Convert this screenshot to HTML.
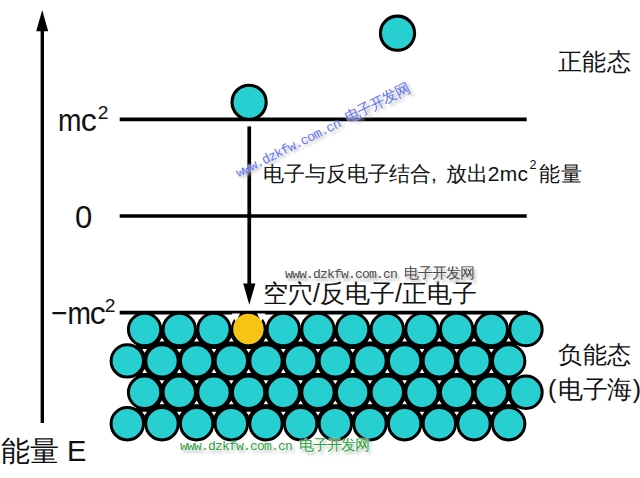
<!DOCTYPE html>
<html><head><meta charset="utf-8">
<style>
html,body{margin:0;padding:0;background:#fff;width:640px;height:478px;overflow:hidden;}
body{position:relative;font-family:"Liberation Sans",sans-serif;color:#111;}
.t{position:absolute;white-space:nowrap;line-height:1;}
svg{position:absolute;left:0;top:0;}
sup{font-size:0.6em;vertical-align:0;position:relative;top:-0.62em;}
.sq{display:inline-block;transform:scaleX(0.88);transform-origin:0 0;margin-right:-4px}
.sq2{display:inline-block;transform:scaleX(0.88);transform-origin:0 0;margin-right:-6.5px}
.wm{position:absolute;white-space:nowrap;font-family:"Liberation Mono",monospace;line-height:1;}
.wm span{font-family:"Liberation Sans",sans-serif;}
</style></head><body>
<svg id="shapes" width="640" height="478" viewBox="0 0 640 478">
<g stroke="#000" stroke-width="3.7" fill="none">
<line x1="119.7" y1="119.4" x2="526.7" y2="119.4"/>
<line x1="119.7" y1="216" x2="526.7" y2="216"/>
<line x1="119.7" y1="312.6" x2="527.7" y2="312.6"/>
</g>
<rect x="40.6" y="28" width="3.4" height="395" fill="#000"/>
<polygon points="42.2,9.9 36.2,31.3 48.2,31.3" fill="#000"/>
<rect x="247.4" y="126.4" width="3.7" height="160" fill="#000"/>
<polygon points="249.3,304.8 243.2,283.5 255.4,283.5" fill="#000"/>
<g fill="#28cfd1" stroke="#000" stroke-width="3.1">
<circle cx="397.5" cy="33.2" r="17.1"/>
<circle cx="249.1" cy="102.3" r="17.1"/>
</g>
<polygon points="144.60,329.50 525.97,329.50 508.67,360.90 525.97,392.30 508.67,423.70 127.30,423.70 144.60,392.30 127.30,360.90" fill="#000"/>
<g fill="#28cfd1" stroke="#000" stroke-width="3">
<circle cx="144.60" cy="329.50" r="16.20"/>
<circle cx="179.27" cy="329.50" r="16.20"/>
<circle cx="213.94" cy="329.50" r="16.20"/>
<circle cx="248.61" cy="329.50" r="16.20"/>
<circle cx="283.28" cy="329.50" r="16.20"/>
<circle cx="317.95" cy="329.50" r="16.20"/>
<circle cx="352.62" cy="329.50" r="16.20"/>
<circle cx="387.29" cy="329.50" r="16.20"/>
<circle cx="421.96" cy="329.50" r="16.20"/>
<circle cx="456.63" cy="329.50" r="16.20"/>
<circle cx="491.30" cy="329.50" r="16.20"/>
<circle cx="525.97" cy="329.50" r="16.20"/>
<circle cx="127.30" cy="360.90" r="16.20"/>
<circle cx="161.97" cy="360.90" r="16.20"/>
<circle cx="196.64" cy="360.90" r="16.20"/>
<circle cx="231.31" cy="360.90" r="16.20"/>
<circle cx="265.98" cy="360.90" r="16.20"/>
<circle cx="300.65" cy="360.90" r="16.20"/>
<circle cx="335.32" cy="360.90" r="16.20"/>
<circle cx="369.99" cy="360.90" r="16.20"/>
<circle cx="404.66" cy="360.90" r="16.20"/>
<circle cx="439.33" cy="360.90" r="16.20"/>
<circle cx="474.00" cy="360.90" r="16.20"/>
<circle cx="508.67" cy="360.90" r="16.20"/>
<circle cx="144.60" cy="392.30" r="16.20"/>
<circle cx="179.27" cy="392.30" r="16.20"/>
<circle cx="213.94" cy="392.30" r="16.20"/>
<circle cx="248.61" cy="392.30" r="16.20"/>
<circle cx="283.28" cy="392.30" r="16.20"/>
<circle cx="317.95" cy="392.30" r="16.20"/>
<circle cx="352.62" cy="392.30" r="16.20"/>
<circle cx="387.29" cy="392.30" r="16.20"/>
<circle cx="421.96" cy="392.30" r="16.20"/>
<circle cx="456.63" cy="392.30" r="16.20"/>
<circle cx="491.30" cy="392.30" r="16.20"/>
<circle cx="525.97" cy="392.30" r="16.20"/>
<circle cx="127.30" cy="423.70" r="16.20"/>
<circle cx="161.97" cy="423.70" r="16.20"/>
<circle cx="196.64" cy="423.70" r="16.20"/>
<circle cx="231.31" cy="423.70" r="16.20"/>
<circle cx="265.98" cy="423.70" r="16.20"/>
<circle cx="300.65" cy="423.70" r="16.20"/>
<circle cx="335.32" cy="423.70" r="16.20"/>
<circle cx="369.99" cy="423.70" r="16.20"/>
<circle cx="404.66" cy="423.70" r="16.20"/>
<circle cx="439.33" cy="423.70" r="16.20"/>
<circle cx="474.00" cy="423.70" r="16.20"/>
<circle cx="508.67" cy="423.70" r="16.20"/>
</g>
<g fill="#fff">
<polygon points="161.94,337.69 159.53,341.49 164.34,341.49"/>
<polygon points="196.60,337.69 194.20,341.49 199.00,341.49"/>
<polygon points="231.28,337.69 228.88,341.49 233.68,341.49"/>
<polygon points="265.94,337.69 263.55,341.49 268.34,341.49"/>
<polygon points="300.61,337.69 298.21,341.49 303.01,341.49"/>
<polygon points="335.29,337.69 332.89,341.49 337.69,341.49"/>
<polygon points="369.95,337.69 367.56,341.49 372.35,341.49"/>
<polygon points="404.62,337.69 402.22,341.49 407.02,341.49"/>
<polygon points="439.30,337.69 436.90,341.49 441.69,341.49"/>
<polygon points="473.96,337.69 471.56,341.49 476.36,341.49"/>
<polygon points="508.64,337.69 506.24,341.49 511.04,341.49"/>
<polygon points="144.63,352.71 142.23,348.91 147.03,348.91"/>
<polygon points="179.31,352.71 176.91,348.91 181.71,348.91"/>
<polygon points="213.97,352.71 211.57,348.91 216.38,348.91"/>
<polygon points="248.65,352.71 246.25,348.91 251.05,348.91"/>
<polygon points="283.31,352.71 280.92,348.91 285.71,348.91"/>
<polygon points="317.99,352.71 315.59,348.91 320.38,348.91"/>
<polygon points="352.65,352.71 350.25,348.91 355.05,348.91"/>
<polygon points="387.32,352.71 384.93,348.91 389.72,348.91"/>
<polygon points="422.00,352.71 419.60,348.91 424.39,348.91"/>
<polygon points="456.67,352.71 454.27,348.91 459.06,348.91"/>
<polygon points="491.34,352.71 488.94,348.91 493.74,348.91"/>
<polygon points="144.63,369.09 142.23,372.89 147.03,372.89"/>
<polygon points="179.31,369.09 176.91,372.89 181.71,372.89"/>
<polygon points="213.97,369.09 211.57,372.89 216.38,372.89"/>
<polygon points="248.65,369.09 246.25,372.89 251.05,372.89"/>
<polygon points="283.31,369.09 280.92,372.89 285.71,372.89"/>
<polygon points="317.99,369.09 315.59,372.89 320.38,372.89"/>
<polygon points="352.65,369.09 350.25,372.89 355.05,372.89"/>
<polygon points="387.32,369.09 384.93,372.89 389.72,372.89"/>
<polygon points="422.00,369.09 419.60,372.89 424.39,372.89"/>
<polygon points="456.67,369.09 454.27,372.89 459.06,372.89"/>
<polygon points="491.34,369.09 488.94,372.89 493.74,372.89"/>
<polygon points="161.94,384.11 159.53,380.31 164.34,380.31"/>
<polygon points="196.60,384.11 194.20,380.31 199.00,380.31"/>
<polygon points="231.28,384.11 228.88,380.31 233.68,380.31"/>
<polygon points="265.94,384.11 263.55,380.31 268.34,380.31"/>
<polygon points="300.61,384.11 298.21,380.31 303.01,380.31"/>
<polygon points="335.29,384.11 332.89,380.31 337.69,380.31"/>
<polygon points="369.95,384.11 367.56,380.31 372.35,380.31"/>
<polygon points="404.62,384.11 402.22,380.31 407.02,380.31"/>
<polygon points="439.30,384.11 436.90,380.31 441.69,380.31"/>
<polygon points="473.96,384.11 471.56,380.31 476.36,380.31"/>
<polygon points="508.64,384.11 506.24,380.31 511.04,380.31"/>
<polygon points="161.94,400.49 159.53,404.29 164.34,404.29"/>
<polygon points="196.60,400.49 194.20,404.29 199.00,404.29"/>
<polygon points="231.28,400.49 228.88,404.29 233.68,404.29"/>
<polygon points="265.94,400.49 263.55,404.29 268.34,404.29"/>
<polygon points="300.61,400.49 298.21,404.29 303.01,404.29"/>
<polygon points="335.29,400.49 332.89,404.29 337.69,404.29"/>
<polygon points="369.95,400.49 367.56,404.29 372.35,404.29"/>
<polygon points="404.62,400.49 402.22,404.29 407.02,404.29"/>
<polygon points="439.30,400.49 436.90,404.29 441.69,404.29"/>
<polygon points="473.96,400.49 471.56,404.29 476.36,404.29"/>
<polygon points="508.64,400.49 506.24,404.29 511.04,404.29"/>
<polygon points="144.63,415.51 142.23,411.71 147.03,411.71"/>
<polygon points="179.31,415.51 176.91,411.71 181.71,411.71"/>
<polygon points="213.97,415.51 211.57,411.71 216.38,411.71"/>
<polygon points="248.65,415.51 246.25,411.71 251.05,411.71"/>
<polygon points="283.31,415.51 280.92,411.71 285.71,411.71"/>
<polygon points="317.99,415.51 315.59,411.71 320.38,411.71"/>
<polygon points="352.65,415.51 350.25,411.71 355.05,411.71"/>
<polygon points="387.32,415.51 384.93,411.71 389.72,411.71"/>
<polygon points="422.00,415.51 419.60,411.71 424.39,411.71"/>
<polygon points="456.67,415.51 454.27,411.71 459.06,411.71"/>
<polygon points="491.34,415.51 488.94,411.71 493.74,411.71"/>
</g>
<path d="M231.5,313.5 L240,313.5 L236,322 Z M265.5,313.5 L257,313.5 L261,322 Z" fill="#fff"/>
<circle cx="248.4" cy="329" r="15.2" fill="#f8c413"/>
</svg>
<div id="mc" class="t" style="left:58px;top:104.3px;font-size:32px"><span class="sq">m</span>c<sup style="margin-left:1px">2</sup></div>
<div id="zero" class="t" style="left:75px;top:202px;font-size:31px">0</div>
<div id="nmc" class="t" style="left:51px;top:297px;font-size:32px"><span class="sq2">&minus;m</span>c<sup style="margin-left:-1px">2</sup></div>
<div id="ne" class="t" style="left:1px;top:436.5px;font-size:29px">能量 E</div>
<div id="pos" class="t" style="left:557.5px;top:49.5px;font-size:24px;letter-spacing:0.75px">正能态</div>
<div id="neg" class="t" style="left:558px;top:343px;font-size:24px;letter-spacing:0.5px">负能态</div>
<div id="sea" class="t" style="left:548px;top:377px;font-size:25px;letter-spacing:-0.5px">(<span style="margin-left:2.5px">电子海</span><span style="margin-left:1px">)</span></div>
<div id="mid" class="t" style="left:263px;top:162.5px;font-size:21px">电子与反电子结合,<span style="margin-left:9px">放出</span><span style="letter-spacing:0.3px">2mc</span><sup style="margin-left:1px;top:-0.88em">2</sup><span style="margin-left:2.5px;letter-spacing:1px">能量</span></div>
<div id="hole" class="t" style="left:263px;top:280.5px;font-size:25px">空穴/反电子/正电子</div>
<div id="wm1" class="wm" style="left:285px;top:264.5px;font-size:13px;letter-spacing:-0.8px;color:#4a4a4a;text-shadow:0 0 1.5px #fff,2px 3px 3px #aaa">www.dzkfw.com.cn <span style="font-size:15px;letter-spacing:-1px">电子开发网</span></div>
<div id="wm2" class="wm" style="left:180px;top:436.5px;font-size:13px;letter-spacing:-0.8px;color:#2ca040;text-shadow:0 0 1.5px #fff,0 0 1.5px #fff,2px 3px 3px #bbb">www.dzkfw.com.cn <span style="font-size:15px;letter-spacing:-1px">电子开发网</span></div>
<div id="wm3" class="wm" style="left:240px;top:164px;font-size:13.3px;letter-spacing:-0.8px;color:#6474ee;text-shadow:0 0 1.5px #fff,2px 3px 3px #bbb;transform-origin:0 100%;transform:rotate(-26.4deg)">www.dzkfw.com.cn <span style="font-size:15px;letter-spacing:-1px">电子开发网</span></div>
</body></html>
